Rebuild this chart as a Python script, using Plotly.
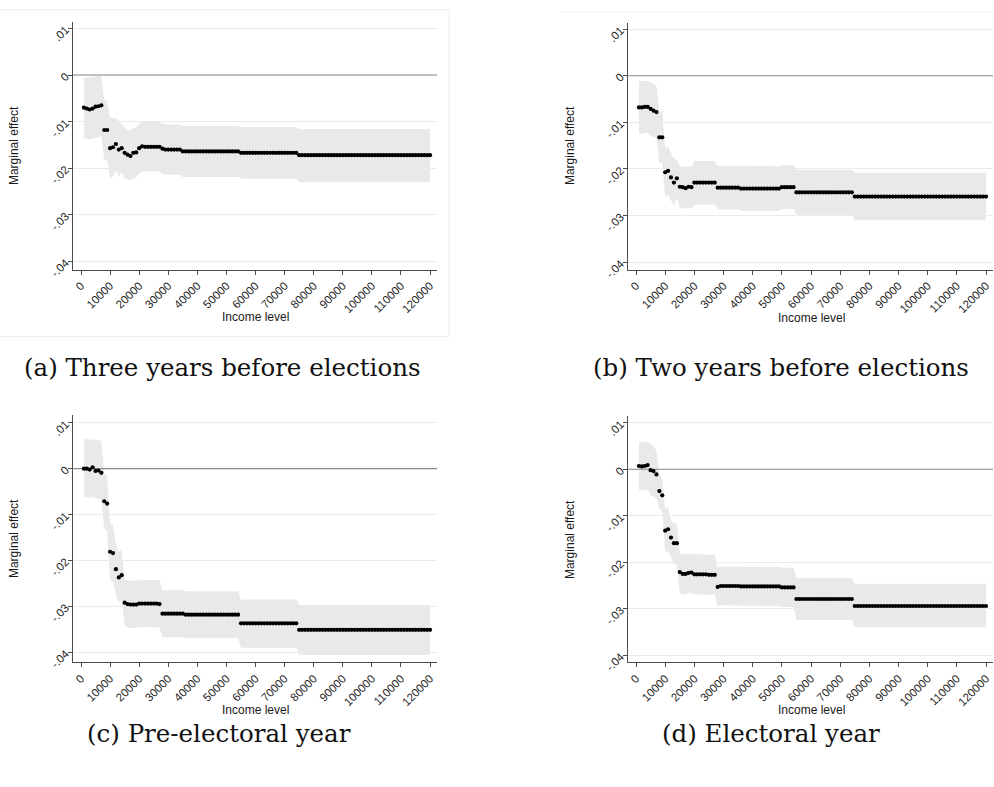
import plotly.graph_objects as go

W, H = 994, 787

# ---------------- data ----------------
income = list(range(1000, 121000, 1000))
xtick_vals = list(range(0, 130000, 10000))
xtick_text = [str(v) for v in xtick_vals]
ytick_vals = [0.01, 0.0, -0.01, -0.02, -0.03, -0.04]
ytick_text = [".01", "0", "-.01", "-.02", "-.03", "-.04"]

captions = ["(a) Three years before elections", "(b) Two years before elections",
            "(c) Pre-electoral year", "(d) Electoral year"]

# (a) Three years before elections
est_a = ([-0.0070, -0.0072, -0.0074, -0.0072, -0.0068, -0.0067, -0.0065,
          -0.0118, -0.0118, -0.0157, -0.0155, -0.0148, -0.0160, -0.0157,
          -0.0167, -0.0171, -0.0174, -0.0167, -0.0166, -0.0157, -0.0153]
         + [-0.0154] * 6 + [-0.0158] + [-0.0160] * 6 + [-0.0164] * 20
         + [-0.0167] * 20 + [-0.0172] * 46)
hi_a = ([-0.0006, -0.0006, -0.0005, -0.0004, -0.0003, -0.0002, 0.0000,
         -0.0054, -0.0054, -0.0090, -0.0093, -0.0092, -0.0098, -0.0106,
         -0.0112, -0.0118, -0.0119, -0.0114, -0.0112, -0.0104, -0.0100]
        + [-0.0101] * 6 + [-0.0104] + [-0.0106] * 6 + [-0.0109] * 20
        + [-0.0112] * 20 + [-0.0116] * 46)
lo_a = ([-0.0136, -0.0137, -0.0138, -0.0137, -0.0134, -0.0133, -0.0131,
         -0.0182, -0.0182, -0.0222, -0.0217, -0.0205, -0.0220, -0.0209,
         -0.0222, -0.0224, -0.0226, -0.0222, -0.0220, -0.0212, -0.0207]
        + [-0.0207] * 6 + [-0.0212] + [-0.0214] * 6 + [-0.0219] * 20
        + [-0.0222] * 20 + [-0.0230] * 46)

# (b) Two years before elections
est_b = ([-0.0068, -0.0068, -0.0067, -0.0067, -0.0071, -0.0075, -0.0078,
          -0.0132, -0.0132, -0.0207, -0.0204, -0.0218, -0.0229, -0.0220,
          -0.0238, -0.0239, -0.0241, -0.0238, -0.0239]
         + [-0.0229] * 8 + [-0.0240] * 8 + [-0.0242] * 14 + [-0.0239] * 5
         + [-0.0250] * 20 + [-0.0259] * 46)
hi_b = ([-0.0012, -0.0011, -0.0011, -0.0011, -0.0014, -0.0018, -0.0022,
         -0.0077, -0.0077, -0.0155, -0.0153, -0.0167, -0.0178, -0.0180,
         -0.0194, -0.0195, -0.0196, -0.0194, -0.0195]
        + [-0.0183] * 8 + [-0.0193] * 8 + [-0.0194] * 14 + [-0.0192] * 5
        + [-0.0202] * 20 + [-0.0208] * 46)
lo_b = ([-0.0124, -0.0125, -0.0123, -0.0123, -0.0128, -0.0132, -0.0134,
         -0.0187, -0.0187, -0.0259, -0.0255, -0.0269, -0.0280, -0.0262,
         -0.0283, -0.0284, -0.0286, -0.0283, -0.0284]
        + [-0.0276] * 8 + [-0.0287] * 8 + [-0.0290] * 14 + [-0.0286] * 5
        + [-0.0298] * 20 + [-0.0310] * 46)

# (c) Pre-electoral year
est_c = ([0.0000, 0.0000, -0.0002, 0.0003, -0.0005, -0.0004, -0.0009,
          -0.0071, -0.0076, -0.0181, -0.0184, -0.0219, -0.0237, -0.0232,
          -0.0292, -0.0295, -0.0296, -0.0296, -0.0296]
         + [-0.0294] * 7 + [-0.0295] + [-0.0316] * 8 + [-0.0318] * 19
         + [-0.0337] * 20 + [-0.0351] * 46)
hi_c = ([0.0064, 0.0064, 0.0063, 0.0064, 0.0063, 0.0062, 0.0060,
         -0.0012, -0.0016, -0.0120, -0.0122, -0.0164, -0.0182, -0.0177,
         -0.0241, -0.0243, -0.0244, -0.0244, -0.0244]
        + [-0.0242] * 7 + [-0.0243] + [-0.0265] * 8 + [-0.0267] * 19
        + [-0.0285] * 20 + [-0.0297] * 46)
lo_c = ([-0.0062, -0.0063, -0.0064, -0.0062, -0.0064, -0.0065, -0.0068,
         -0.0131, -0.0136, -0.0242, -0.0246, -0.0274, -0.0292, -0.0287,
         -0.0343, -0.0346, -0.0347, -0.0347, -0.0347]
        + [-0.0345] * 7 + [-0.0346] + [-0.0367] * 8 + [-0.0369] * 19
        + [-0.0390] * 20 + [-0.0406] * 46)

# (d) Electoral year
est_d = ([0.0007, 0.0006, 0.0007, 0.0009, -0.0002, -0.0004, -0.0011,
          -0.0047, -0.0056, -0.0132, -0.0129, -0.0147, -0.0159, -0.0159,
          -0.0221, -0.0225, -0.0225, -0.0223, -0.0222]
         + [-0.0226] * 5 + [-0.0227] * 3 + [-0.0253] + [-0.0251] * 7
         + [-0.0252] * 14 + [-0.0254] * 5 + [-0.0279] * 20 + [-0.0294] * 46)
hi_d = ([0.0059, 0.0059, 0.0059, 0.0059, 0.0054, 0.0049, 0.0040,
         -0.0010, -0.0022, -0.0085, -0.0083, -0.0110, -0.0116, -0.0117,
         -0.0181, -0.0183, -0.0183, -0.0182, -0.0181]
        + [-0.0183] * 5 + [-0.0184] * 3 + [-0.0211] + [-0.0209] * 7
        + [-0.0210] * 14 + [-0.0212] * 5 + [-0.0234] * 20 + [-0.0246] * 46)
lo_d = ([-0.0044, -0.0045, -0.0045, -0.0043, -0.0056, -0.0058, -0.0063,
         -0.0085, -0.0092, -0.0178, -0.0175, -0.0190, -0.0203, -0.0205,
         -0.0266, -0.0269, -0.0269, -0.0267, -0.0266]
        + [-0.0269] * 5 + [-0.0270] * 3 + [-0.0295] + [-0.0293] * 7
        + [-0.0294] * 14 + [-0.0296] * 5 + [-0.0324] * 20 + [-0.0340] * 46)

panels = [(est_a, hi_a, lo_a), (est_b, hi_b, lo_b), (est_c, hi_c, lo_c), (est_d, hi_d, lo_d)]

# ---------------- layout geometry (pixels) ----------------
boxes = [(73, 437, 22, 273), (628, 993, 23, 273), (73, 437, 420, 671), (628, 993, 421, 671)]
x_range = [-2750, 122400]
y_ranges = [[-0.04174, 0.01144], [-0.04155, 0.01136], [-0.04222, 0.01176], [-0.04155, 0.01153]]
xtitle_pos = [(255, 321), (811, 322), (255, 719), (811, 719)]
ytitle_pos = [(14, 148), (570, 148), (14, 546), (570, 547)]
caption_pos = [(222, 372), (781, 372), (219, 743), (771, 743)]


def px(x):
    return x / W


def py(y):
    return 1 - y / H


fig = go.Figure()
layout = {}
tick_font = dict(family="Liberation Sans, Arial, sans-serif", size=11.5, color="#1f1f1f")
title_font = dict(family="Liberation Sans, Arial, sans-serif", size=12, color="#1a1a1a")
annotations = []
shapes = []

for i, (est, hi, lo) in enumerate(panels):
    n = "" if i == 0 else str(i + 1)
    xa, ya = "x" + n, "y" + n
    l, r, t, b = boxes[i]
    fig.add_trace(go.Scatter(x=income, y=hi, xaxis=xa, yaxis=ya, mode="lines",
                             line=dict(width=0, color="rgba(0,0,0,0)"), showlegend=False,
                             hoverinfo="skip"))
    fig.add_trace(go.Scatter(x=income, y=lo, xaxis=xa, yaxis=ya, mode="lines",
                             line=dict(width=0, color="rgba(0,0,0,0)"), fill="tonexty",
                             fillcolor="#e9e9e9", showlegend=False, hoverinfo="skip"))
    fig.add_trace(go.Scatter(x=x_range, y=[0, 0], xaxis=xa, yaxis=ya, mode="lines",
                             line=dict(width=1.1, color="#8a8a8a"), showlegend=False,
                             hoverinfo="skip"))
    fig.add_trace(go.Scatter(x=income, y=est, xaxis=xa, yaxis=ya, mode="markers",
                             marker=dict(size=4.2, color="black"), showlegend=False))

    layout["xaxis" + n] = dict(domain=[px(l), px(r)], range=x_range, anchor=ya,
                               tickvals=xtick_vals, ticktext=xtick_text, tickangle=-45,
                               showgrid=False, zeroline=False, showline=True,
                               linecolor="#4d4d4d", linewidth=1, ticks="outside",
                               ticklen=4, tickcolor="#4d4d4d", tickfont=tick_font)
    layout["yaxis" + n] = dict(domain=[py(b), py(t)], range=y_ranges[i], anchor=xa,
                               tickvals=ytick_vals, ticktext=ytick_text, tickangle=-45,
                               showgrid=True, gridcolor="#e4eef0", gridwidth=1,
                               zeroline=False, showline=True, linecolor="#4d4d4d",
                               linewidth=1, ticks="outside", ticklen=4,
                               tickcolor="#4d4d4d", tickfont=tick_font)
    annotations.append(dict(text="Income level", x=px(xtitle_pos[i][0]), y=py(xtitle_pos[i][1]),
                            xref="paper", yref="paper", showarrow=False, font=title_font,
                            xanchor="center", yanchor="middle"))
    annotations.append(dict(text="Marginal effect", x=px(ytitle_pos[i][0]), y=py(ytitle_pos[i][1]),
                            xref="paper", yref="paper", showarrow=False, textangle=-90,
                            font=title_font, xanchor="center", yanchor="middle"))
    annotations.append(dict(text=captions[i], x=px(caption_pos[i][0]), y=py(caption_pos[i][1]),
                            xref="paper", yref="paper", showarrow=False,
                            font=dict(family="DejaVu Serif, serif", size=24.5, color="#111111"),
                            xanchor="center", yanchor="middle"))

frame = "#ececec"
shapes.append(dict(type="line", xref="paper", yref="paper", x0=px(0), x1=px(449),
                   y0=py(10), y1=py(10), line=dict(color=frame, width=1)))
shapes.append(dict(type="line", xref="paper", yref="paper", x0=px(449), x1=px(449),
                   y0=py(10), y1=py(341), line=dict(color=frame, width=1)))
shapes.append(dict(type="line", xref="paper", yref="paper", x0=px(0), x1=px(449),
                   y0=py(341), y1=py(341), line=dict(color=frame, width=1)))
shapes.append(dict(type="line", xref="paper", yref="paper", x0=px(560), x1=px(994),
                   y0=py(12), y1=py(12), line=dict(color="#f3f3f3", width=1)))

fig.update_layout(width=W, height=H, margin=dict(l=0, r=0, t=0, b=0),
                  paper_bgcolor="white", plot_bgcolor="white",
                  annotations=annotations, shapes=shapes, **layout)

page_fix = ("var s=document.documentElement.style;s.margin='0';s.padding='0';"
            "s.height='787px';s.overflow='hidden';"
            "var b=document.body.style;b.margin='0';b.padding='0';"
            "b.height='787px';b.overflow='hidden';")
fig.write_html("out.html", config={"displayModeBar": False}, post_script=page_fix)
